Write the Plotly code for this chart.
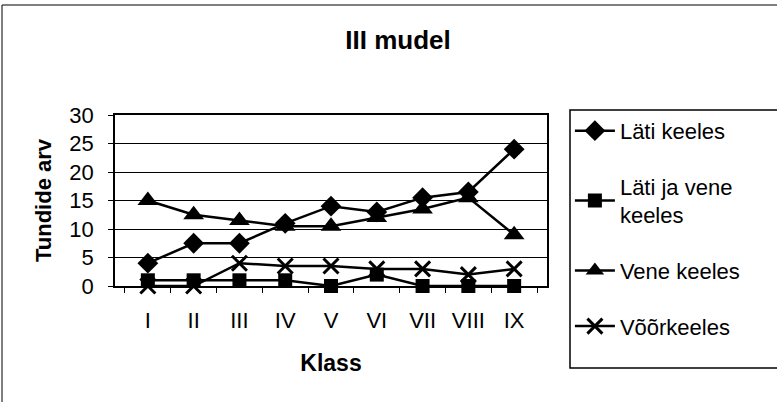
import plotly.graph_objects as go

klassid = ["I", "II", "III", "IV", "V", "VI", "VII", "VIII", "IX"]
lati_keeles = [4, 7.5, 7.5, 11, 14, 13, 15.5, 16.5, 24]
lati_ja_vene = [1, 1, 1, 1, 0, 2, 0, 0, 0]
vene_keeles = [15, 12.5, 11.5, 10.5, 10.5, 12, 13.5, 15.5, 9]
voorkeeles = [0, 0, 4, 3.5, 3.5, 3, 3, 2, 3]

FONT = "Liberation Sans, Arial, sans-serif"

series = [
    ("Läti keeles", lati_keeles, dict(symbol="diamond", size=16)),
    ("Läti ja vene<br>keeles", lati_ja_vene, dict(symbol="square", size=14)),
    ("Vene keeles", vene_keeles, dict(symbol="triangle-up", size=18)),
    ("Võõrkeeles", voorkeeles, dict(symbol="x-thin-open", size=15, line=dict(width=3, color="black"))),
]

fig = go.Figure()
for i, (name, vals, marker) in enumerate(series):
    fig.add_trace(
        go.Scatter(
            x=klassid,
            y=vals,
            name=name,
            mode="lines+markers",
            line=dict(color="black", width=2.5),
            marker=dict(color="black", **marker),
            cliponaxis=False,
            legendgroup=f"g{i}",
        )
    )

fig.update_layout(
    width=777,
    height=402,
    margin=dict(l=115, r=230, t=115, b=116),
    paper_bgcolor="white",
    plot_bgcolor="white",
    font=dict(family=FONT, color="black", size=22),
    title=dict(
        text="<b>III mudel</b>",
        x=398 / 777,
        xanchor="center",
        y=1 - 40 / 402,
        yanchor="middle",
        font=dict(size=26, family=FONT),
    ),
    legend=dict(
        x=1.053,
        xanchor="left",
        y=1.03,
        yanchor="top",
        borderwidth=0,
        bgcolor="rgba(0,0,0,0)",
        traceorder="grouped",
        tracegroupgap=24,
        font=dict(size=22, family=FONT),
        itemwidth=40,
        maxheight=1,
    ),
    showlegend=True,
)

fig.update_xaxes(
    type="category",
    showline=True,
    linecolor="black",
    linewidth=1.5,
    mirror=True,
    ticks="outside",
    ticklen=5,
    tickcolor="black",
    tickson="boundaries",
    ticklabelstandoff=14,
    showgrid=False,
    title=dict(text="<b>Klass</b>", font=dict(size=23), standoff=23),
    tickfont=dict(size=22),
)
fig.update_yaxes(
    range=[0, 30],
    dtick=5,
    showline=True,
    linecolor="black",
    linewidth=1.5,
    mirror=True,
    ticks="outside",
    ticklen=5,
    tickcolor="black",
    ticklabelstandoff=10,
    showgrid=True,
    gridcolor="black",
    gridwidth=1,
    zeroline=False,
    title=dict(text="<b>Tundide arv</b>", font=dict(size=22), standoff=12),
    tickfont=dict(size=22),
)

# outer chart frame
fig.add_shape(
    type="rect", xref="paper", yref="paper",
    x0=(2 - 115) / 432, x1=(790 - 115) / 432,
    y0=-1.0, y1=(286 - 5) / 171,
    line=dict(color="black", width=1),
    layer="below",
)
# legend frame
fig.add_shape(
    type="rect", xref="paper", yref="paper",
    x0=(570 - 115) / 432, x1=(790 - 115) / 432,
    y0=(286 - 368) / 171, y1=(286 - 110) / 171,
    line=dict(color="black", width=1.5),
    layer="below",
)

fig.write_html(
    "out.html",
    config={"displayModeBar": False},
    post_script="document.body.style.margin='0';",
)
